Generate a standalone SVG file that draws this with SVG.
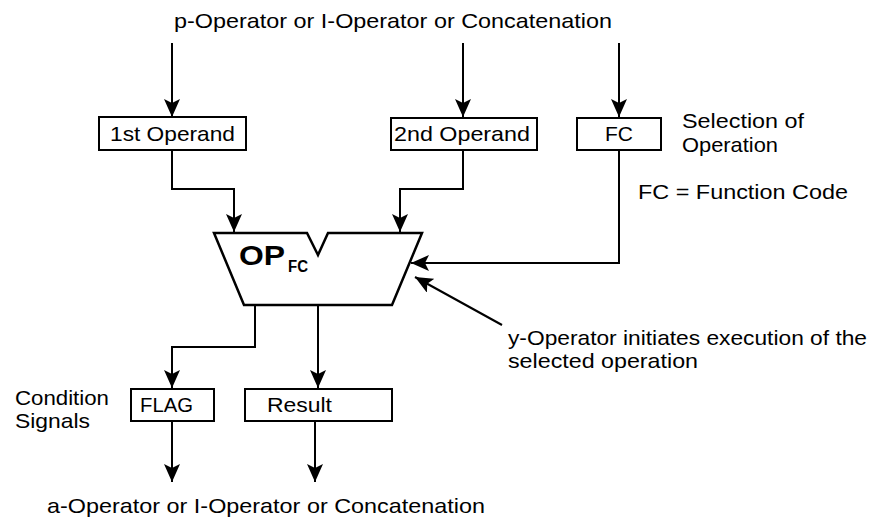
<svg xmlns="http://www.w3.org/2000/svg" width="881" height="520" viewBox="0 0 881 520">
<defs>
<marker id="arr" markerUnits="userSpaceOnUse" markerWidth="18" markerHeight="16" refX="18" refY="8" orient="auto">
<path d="M0,0 L18,8 L0,16 L4,8 Z" fill="#000"/>
</marker>
<style>
text{font-family:"Liberation Sans",Arial,sans-serif;font-size:21px;fill:#000}
.box{fill:#fff;stroke:#000;stroke-width:2}
.c{fill:none;stroke:#000;stroke-width:2;marker-end:url(#arr)}
.m{text-anchor:middle}
.b{font-weight:bold}
</style>
</defs>
<rect width="881" height="520" fill="#fff"/>

<g id="connectors">
<path class="c" d="M172,43 V117"/>
<path class="c" d="M463,43 V117"/>
<path class="c" d="M619,43 V117"/>
<path class="c" d="M172,150 V189 H234 V232"/>
<path class="c" d="M463,150 V189 H400 V232"/>
<path class="c" d="M619,150 V263 H411"/>
<path class="c" d="M502,325 L415,277"/>
<path class="c" d="M255,305 V347 H172 V388"/>
<path class="c" d="M318,305 V388"/>
<path class="c" d="M172,421 V482"/>
<path class="c" d="M315,421 V482"/>
</g>

<g id="top-label"><text x="174" y="28" textLength="438" lengthAdjust="spacingAndGlyphs">p-Operator or I-Operator or Concatenation</text></g>
<g id="bottom-label"><text x="47" y="513" textLength="438" lengthAdjust="spacingAndGlyphs">a-Operator or I-Operator or Concatenation</text></g>

<g id="operand1"><rect class="box" x="99" y="117" width="147" height="33"/><text x="110" y="141" textLength="125" lengthAdjust="spacingAndGlyphs">1st Operand</text></g>
<g id="operand2"><rect class="box" x="391" y="118" width="146" height="32"/><text x="394" y="141" textLength="136" lengthAdjust="spacingAndGlyphs">2nd Operand</text></g>
<g id="fc"><rect class="box" x="577" y="118" width="84" height="32"/><text class="m" x="619" y="141">FC</text></g>

<g id="selection-label">
<text x="682" y="128" textLength="122" lengthAdjust="spacingAndGlyphs">Selection of</text>
<text x="682" y="152" textLength="96" lengthAdjust="spacingAndGlyphs">Operation</text>
</g>
<g id="fc-label"><text x="638" y="199" textLength="210" lengthAdjust="spacingAndGlyphs">FC = Function Code</text></g>

<g id="op">
<path d="M214,233 L307,233 L318,255 L328,233 L422,233 L392,305 L244,305 Z" fill="#fff" stroke="#000" stroke-width="2.5" stroke-linejoin="miter"/>
<text class="b" x="239" y="265" style="font-size:28px" textLength="46" lengthAdjust="spacingAndGlyphs">OP</text>
<text class="b" x="288" y="272" style="font-size:16px" textLength="20" lengthAdjust="spacingAndGlyphs">FC</text>
</g>

<g id="y-label">
<text x="508" y="345" textLength="359" lengthAdjust="spacingAndGlyphs">y-Operator initiates execution of the</text>
<text x="508" y="368" textLength="190" lengthAdjust="spacingAndGlyphs">selected operation</text>
</g>

<g id="condition-label">
<text x="15" y="405" textLength="94" lengthAdjust="spacingAndGlyphs">Condition</text>
<text x="15" y="428" textLength="75" lengthAdjust="spacingAndGlyphs">Signals</text>
</g>

<g id="flag"><rect class="box" x="131" y="389" width="83" height="32"/><text x="140" y="412" textLength="53" lengthAdjust="spacingAndGlyphs">FLAG</text></g>
<g id="result"><rect class="box" x="245" y="389" width="147" height="32"/><text x="267" y="412" textLength="65" lengthAdjust="spacingAndGlyphs">Result</text></g>
</svg>
